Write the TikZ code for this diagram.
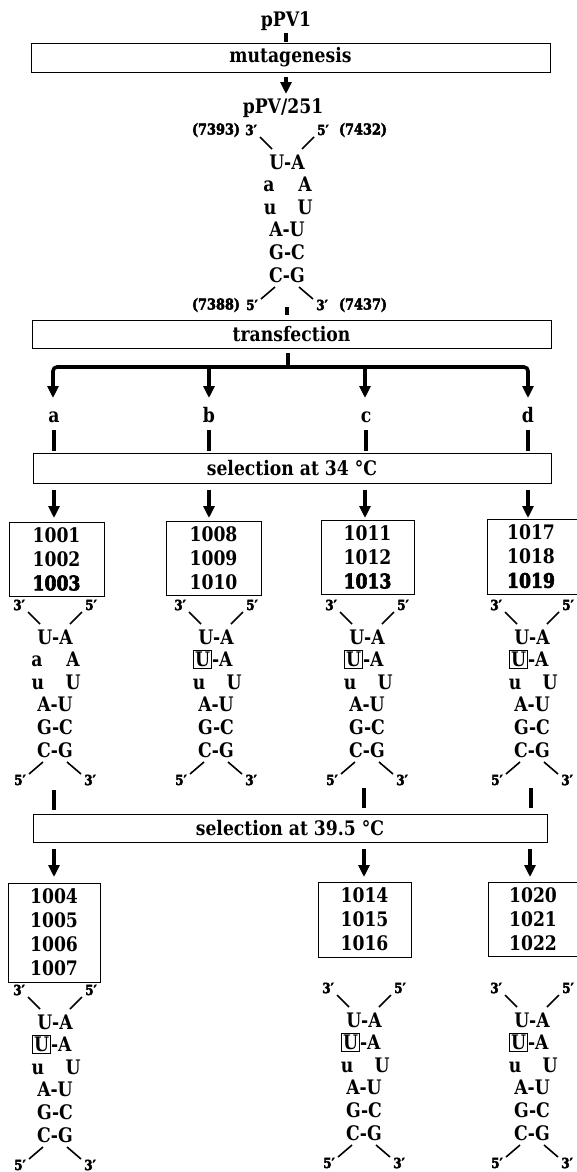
\documentclass[tikz,border=0pt]{standalone}
\usepackage{fontspec}
\setmainfont{DejaVu Serif}[FakeStretch=0.86, UprightFont={* Bold}, BoldFont={* Bold}]
\newfontfamily\heavy{DejaVu Serif}[FakeStretch=0.86, UprightFont={* Bold}, FakeBold=3]
\usetikzlibrary{arrows.meta,calc}

\tikzset{
 frame/.style={draw, line width=0.9pt, inner sep=0pt},
 big/.style={font=\fontsize{20}{24}\selectfont, inner sep=0pt},
 nums/.style={frame, align=center, font=\fontsize{20}{24}\selectfont},
 prime/.style={font=\heavy\fontsize{14}{16}\selectfont, inner sep=0pt},
 posn/.style={font=\heavy\fontsize{15}{18}\selectfont, inner sep=0pt},
 arr/.style={line width=3.2pt, -{Triangle[width=11pt,length=12pt]}},
 stub/.style={line width=3.2pt},
 bond/.style={line width=1.6pt},
 ubox/.style={draw, line width=0.8pt, inner xsep=1.5pt, inner ysep=1.7pt, font=\fontsize{20}{24}\selectfont},
}

\newcommand\hairpin[4]{%
 \node[prime] (#1p3) at ({#2-36},{#3}) {3′};
 \node[prime] (#1p5) at ({#2+36},{#3}) {5′};
 \node[big] (#1r1) at (#2,{#3+32}) {U-A};
 \ifnum#4=0
   \node[big,anchor=base] (#1r2l) at ({#2-18},{#3+61.9}) {a};
   \node[big,anchor=base] (#1r2r) at ({#2+18},{#3+61.9}) {A};
 \else
   \node[ubox] (#1r2l) at ({#2-13.5},{#3+54.6}) {U};
   \node[big,anchor=west] (#1r2r) at (#1r2l.east) {-A};
 \fi
 \node[big,anchor=base] (#1r3l) at ({#2-17},{#3+84.5}) {u};
 \node[big,anchor=base] (#1r3r) at ({#2+18},{#3+84.5}) {U};
 \node[big] (#1r4) at (#2,{#3+99.8}) {A-U};
 \node[big] (#1r5) at (#2,{#3+122.4}) {G-C};
 \node[big] (#1r6) at (#2,{#3+145}) {C-G};
 \node[prime] (#1q5) at ({#2-35},{#3+175}) {5′};
 \node[prime] (#1q3) at ({#2+35},{#3+175}) {3′};
 \coordinate (#1a1) at ({#2-27},{#3+7});
 \coordinate (#1a2) at ({#2-15},{#3+19});
 \coordinate (#1b1) at ({#2+27},{#3+7});
 \coordinate (#1b2) at ({#2+15},{#3+19});
 \coordinate (#1c1) at ({#2-12},{#3+157});
 \coordinate (#1c2) at ({#2-26},{#3+169});
 \coordinate (#1d1) at ({#2+12},{#3+157});
 \coordinate (#1d2) at ({#2+26},{#3+169});
 \draw[bond] (#1a1) -- (#1a2);
 \draw[bond] (#1b1) -- (#1b2);
 \draw[bond] (#1c1) -- (#1c2);
 \draw[bond] (#1d1) -- (#1d2);
}

\begin{document}
\begin{tikzpicture}[x=1pt,y=-1pt]
\useasboundingbox (0,0) rectangle (577,1172);
\fill[white] (0,0) rectangle (577,1172);

% top
\node[big] (ppv1) at (286,21) {pPV1};
\node[frame, minimum width=519pt, minimum height=29pt, font=\fontsize{20}{24}\selectfont] (mut) at (290.5,57.5) {mutagenesis};
\node[big] (ppv251) at (283,108) {pPV/251};
\coordinate (t1) at (286,33); \coordinate (t2) at (286,42);
\draw[stub] (t1) -- (t2);
\coordinate (m1) at (286,77); \coordinate (m2) at (286,94);
\draw[arr] (m1) -- (m2);

\hairpin{h}{287}{130}{0}
\node[posn] (pa) at (216,130) {(7393)};
\node[posn] (pb) at (363,130) {(7432)};
\node[posn] (pc) at (216,305) {(7388)};
\node[posn] (pd) at (363,305) {(7437)};
\coordinate (t3) at (287,307); \coordinate (t4) at (287,315);
\draw[stub] (t3) -- (t4);

\node[frame, minimum width=519pt, minimum height=28pt, font=\fontsize{20}{24}\selectfont] (trans) at (291.5,334) {transfection};

% bracket
\coordinate (s1) at (288,353); \coordinate (s2) at (288,367);
\draw[stub] (s1) -- (s2);
\coordinate (ba) at (53,398); \coordinate (bd) at (528,398);
\draw[line width=3.6pt, rounded corners=4pt, {Triangle[width=11pt,length=12pt]}-{Triangle[width=11pt,length=12pt]}]
  (ba) -- (53,367) -- (528,367) -- (bd);
\coordinate (bb1) at (209,367); \coordinate (bb2) at (209,398);
\coordinate (bc1) at (365,367); \coordinate (bc2) at (365,398);
\draw[arr] (bb1) -- (bb2);
\draw[arr] (bc1) -- (bc2);

\node[big, anchor=base] (la) at (54,422) {a};
\node[big, anchor=base] (lb) at (209,422) {b};
\node[big, anchor=base] (lc) at (366,422) {c};
\node[big, anchor=base] (ld) at (528,422) {d};
\foreach \x in {54,209,366,528}{\draw[stub] (\x,430) -- (\x,451);}

\node[frame, minimum width=518pt, minimum height=30pt, font=\fontsize{20}{24}\selectfont] (sel34) at (292,468) {selection at 34 °C};

\foreach \x in {54,209,365,528}{\draw[arr] (\x,490) -- (\x,518);}

\node[nums, minimum width=95pt, minimum height=74pt] (n1) at (56.5,559) {1001\\1002\\{\heavy 1003}};
\node[nums, minimum width=95pt, minimum height=74pt] (n2) at (213.5,558) {1008\\1009\\1010};
\node[nums, minimum width=93pt, minimum height=74pt] (n3) at (367.5,557) {1011\\1012\\{\heavy 1013}};
\node[frame, minimum width=93pt, minimum height=75pt] (n4) at (533.5,556.5) {};
\node[big, align=center, font=\fontsize{20}{24}\selectfont] (n4t) at (531,556.5) {1017\\1018\\{\heavy 1019}};

\hairpin{ma}{55}{605}{0}
\hairpin{mb}{216}{605}{1}
\hairpin{mc}{367}{605}{1}
\hairpin{md}{532}{605}{1}

\draw[stub] (54,790) -- (54,810);
\draw[stub] (364,788) -- (364,808);
\draw[stub] (531,788) -- (531,808);

\node[frame, minimum width=514pt, minimum height=28pt, font=\fontsize{20}{24}\selectfont] (sel39) at (290,828) {selection at 39.5 °C};

\draw[arr] (54,849) -- (54,877);
\draw[arr] (364,849) -- (364,877);
\draw[arr] (530,849) -- (530,877);

\node[nums, minimum width=92pt, minimum height=99pt] (b1) at (54,932.5) {1004\\1005\\1006\\1007};
\node[nums, minimum width=93pt, minimum height=75pt] (b3) at (364.5,919.5) {1014\\1015\\1016};
\node[frame, minimum width=92pt, minimum height=74pt] (b4) at (534,919) {};
\node[big, align=center, font=\fontsize{20}{24}\selectfont] (b4t) at (533,919) {1020\\1021\\1022};

\hairpin{ba}{55}{990}{1}
\hairpin{bc}{364}{988}{1}
\hairpin{bd}{532}{988}{1}
\end{tikzpicture}
\end{document}
